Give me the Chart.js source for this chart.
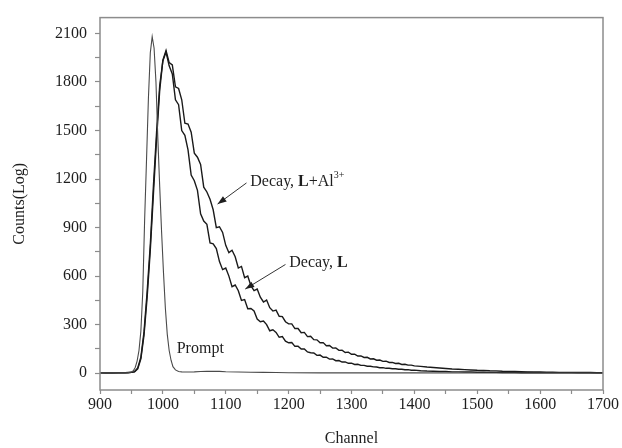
<!DOCTYPE html>
<html><head><meta charset="utf-8">
<script src="https://cdn.jsdelivr.net/npm/chart.js@4.4.1/dist/chart.umd.min.js"></script>
<style>html,body{margin:0;padding:0;background:#fff}canvas{display:block}</style>
</head><body>
<canvas id="c" width="622" height="448"></canvas>
<script>
// ---- data ----
const decayChannels = [
  900,910,920,930,940,945,950,955,960,965,
  970,975,980,985,990,995,1000,1005,1010,1015,
  1020,1025,1030,1035,1040,1045,1050,1055,1060,1065,
  1070,1075,1080,1085,1090,1095,1100,1105,1110,1115,
  1120,1125,1130,1135,1140,1145,1150,1155,1160,1165,
  1170,1175,1180,1185,1190,1195,1200,1205,1210,1215,
  1220,1225,1230,1235,1240,1245,1250,1255,1260,1265,
  1270,1275,1280,1285,1290,1295,1300,1305,1310,1315,
  1320,1325,1330,1335,1340,1345,1350,1355,1360,1365,
  1370,1375,1380,1385,1390,1395,1400,1410,1420,1430,
  1440,1450,1460,1470,1480,1490,1500,1510,1520,1530,
  1540,1550,1560,1570,1580,1590,1600,1610,1620,1630,
  1640,1650,1660,1670,1680,1690,1700
];
const decayL = [
  2,1,2,2,3,3,5,10,32,98,
  255,505,795,1160,1490,1780,1930,1985,1900,1850,
  1690,1660,1500,1470,1380,1225,1190,1130,985,940,
  920,805,800,770,690,640,650,600,535,545,
  510,450,455,398,400,385,335,318,322,300,
  262,268,252,222,226,198,188,190,166,167,
  149,150,131,126,125,110,112,98,99,87,
  88,77,78,69,70,61,62,54,55,48,
  48,43,43,39,38,34,34,30,30,27,
  27,24,24,21,22,18,19,15,13,12,
  10,10,8,8,7,7,6,6,5,5,
  4,4,4,3,4,3,3,3,3,2,
  3,2,2,2,2,2,2
];
const decayLAl = [
  2,2,1,3,3,4,5,8,26,88,
  235,470,760,1110,1450,1750,1935,1995,1920,1905,
  1770,1760,1690,1545,1540,1490,1360,1335,1290,1150,
  1120,1075,1010,900,905,870,790,745,760,720,
  650,660,590,600,540,510,520,470,440,452,
  405,384,390,352,350,318,305,305,276,276,
  250,252,226,228,207,206,188,189,170,171,
  155,156,141,142,128,130,117,118,106,107,
  97,98,88,89,80,81,73,74,66,67,
  60,61,54,55,50,50,45,42,38,35,
  32,29,26,24,22,20,18,17,15,14,
  12,11,10,9,8,8,7,6,6,5,
  5,5,4,4,4,3,3
];
const promptChannels = [
  900,910,920,930,940,945,950,953,956,959,
  962,965,968,971,974,977,980,983,986,989,
  992,995,998,1001,1004,1007,1010,1013,1016,1020,
  1025,1030,1040,1050,1060,1070,1080,1090,1100,1120,
  1140,1160,1180,1200,1250,1300,1400,1500,1600,1700
];
const promptCounts = [
  2,2,3,2,3,4,8,15,35,75,
  140,260,500,950,1320,1700,1980,2080,2010,1800,
  1450,1150,870,620,400,240,140,80,40,20,
  10,8,7,8,10,11,12,11,9,7,
  6,5,4,3,2,2,2,1,1,1
];
const xTickLabels = [900,1000,1100,1200,1300,1400,1500,1600,1700];
const xMinorTicks = [950,1050,1150,1250,1350,1450,1550,1650];
const yTickLabels = [0,300,600,900,1200,1500,1800,2100];
const yMinorTicks = [150,450,750,1050,1350,1650,1950];

// ---- helpers / styles ----
const pts = (xs, ys) => xs.map((x, i) => ({x: x, y: ys[i]}));
const frameColor = '#8c8c8c';
const textColor = '#1e1e1e';
const serif = "'Liberation Serif', 'Times New Roman', serif";

const framePlugin = {
  id: 'frame',
  afterDatasetsDraw(chart) {
    const {ctx, chartArea: a} = chart;
    ctx.save();
    ctx.strokeStyle = frameColor;
    ctx.lineWidth = 1.5;
    ctx.strokeRect(a.left, a.top, a.right - a.left, a.bottom - a.top);
    ctx.restore();
  }
};

function arrow(ctx, x0, y0, x1, y1) {
  ctx.beginPath(); ctx.moveTo(x0, y0); ctx.lineTo(x1, y1); ctx.stroke();
  const ang = Math.atan2(y1 - y0, x1 - x0), L = 9, W = 3.2;
  const bx = x1 - L * Math.cos(ang), by = y1 - L * Math.sin(ang);
  ctx.beginPath();
  ctx.moveTo(x1, y1);
  ctx.lineTo(bx + W * Math.sin(ang), by - W * Math.cos(ang));
  ctx.lineTo(bx - W * Math.sin(ang), by + W * Math.cos(ang));
  ctx.closePath(); ctx.fill();
}
function richText(ctx, x, y, parts) {
  let cx = x;
  for (const p of parts) {
    const size = p.sup ? 10 : 16;
    ctx.font = (p.b ? 'bold ' : '') + size + 'px ' + serif;
    ctx.fillText(p.t, cx, p.sup ? y - 7 : y);
    cx += ctx.measureText(p.t).width;
  }
}
const annotPlugin = {
  id: 'annot',
  afterDraw(chart) {
    const {ctx} = chart, sx = chart.scales.x, sy = chart.scales.y;
    const X = v => sx.getPixelForValue(v), Y = v => sy.getPixelForValue(v);
    ctx.save();
    ctx.fillStyle = textColor; ctx.strokeStyle = '#333'; ctx.lineWidth = 1;
    ctx.textBaseline = 'middle'; ctx.textAlign = 'left';
    richText(ctx, X(1022), Y(153), [{t: 'Prompt'}]);
    richText(ctx, X(1139), Y(1182), [{t: 'Decay, '}, {t: 'L', b: true}, {t: '+Al'}, {t: '3+', sup: true}]);
    arrow(ctx, X(1133), Y(1176), X(1087), Y(1045));
    richText(ctx, X(1201), Y(680), [{t: 'Decay, '}, {t: 'L', b: true}]);
    arrow(ctx, X(1195), Y(672), X(1131), Y(520));
    ctx.restore();
  }
};

const tickFont = {family: serif, size: 16};
new Chart(document.getElementById('c'), {
  type: 'scatter',
  data: {
    datasets: [
      {label: 'Prompt', data: pts(promptChannels, promptCounts), showLine: true,
       borderColor: '#4a4a4a', borderWidth: 1.1, pointRadius: 0, tension: 0},
      {label: 'Decay, L', data: pts(decayChannels, decayL), showLine: true,
       borderColor: '#1a1a1a', borderWidth: 1.4, pointRadius: 0, tension: 0},
      {label: 'Decay, L+Al3+', data: pts(decayChannels, decayLAl), showLine: true,
       borderColor: '#1a1a1a', borderWidth: 1.4, pointRadius: 0, tension: 0}
    ]
  },
  options: {
    responsive: false, animation: false, devicePixelRatio: 1,
    layout: {padding: {top: 14, right: 19, left: 0, bottom: 0}},
    plugins: {legend: {display: false}, tooltip: {enabled: false}},
    scales: {
      x: {
        type: 'linear', min: 900, max: 1700,
        afterBuildTicks: s => { s.ticks = xTickLabels.concat(xMinorTicks).sort((a, b) => a - b).map(v => ({value: v})); },
        afterFit: s => { s.height = 58; },
        ticks: {autoSkip: false, maxRotation: 0, padding: 1, color: textColor, font: tickFont,
                callback: v => xTickLabels.includes(v) ? String(v) : ''},
        grid: {display: true, drawOnChartArea: false, drawTicks: true, tickLength: 4, tickColor: frameColor, tickWidth: 1.2},
        border: {display: false},
        title: {display: true, text: 'Channel', color: textColor, font: {family: serif, size: 16}, padding: {top: 0, bottom: 0}}
      },
      y: {
        type: 'linear', min: -104, max: 2198,
        afterBuildTicks: s => { s.ticks = yTickLabels.concat(yMinorTicks).sort((a, b) => a - b).map(v => ({value: v})); },
        afterFit: s => { s.width = 100; },
        ticks: {autoSkip: false, padding: 8, color: textColor, font: tickFont,
                callback: v => yTickLabels.includes(v) ? String(v) : ''},
        grid: {display: true, drawOnChartArea: false, drawTicks: true, tickLength: 5, tickColor: frameColor, tickWidth: 1.2},
        border: {display: false},
        title: {display: true, text: 'Counts(Log)', color: textColor, font: {family: serif, size: 16}, padding: {top: 10, bottom: 0}}
      }
    }
  },
  plugins: [framePlugin, annotPlugin]
});
</script>
</body></html>
